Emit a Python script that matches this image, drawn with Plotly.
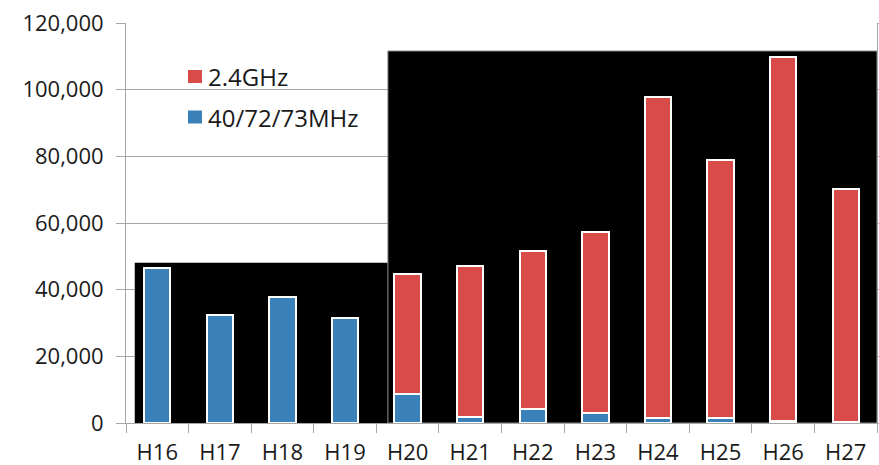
import plotly.graph_objects as go

# Fiscal years (Heisei era)
years = ["H16", "H17", "H18", "H19", "H20", "H21", "H22", "H23", "H24", "H25", "H26", "H27"]

# Counts per frequency band
band_40_72_73mhz = [46600, 32500, 37700, 31600, 8600, 1700, 4300, 3100, 1500, 1500, 600, 300]
band_24ghz = [0, 0, 0, 0, 36200, 45300, 47400, 54200, 96200, 77300, 109100, 70000]

legend_labels = ["2.4GHz", "40/72/73MHz"]

RED = "#D84B49"
BLUE = "#3A80B9"
GRID = "#A6A6A6"
TEXT = "#1A1A1A"
FONT = "Open Sans"

W, H = 879, 465
ML, MR, MT, MB = 126, 2, 23, 42
PW, PH = W - ML - MR, H - MT - MB


def px_x(px):
    """Pixel column -> paper x."""
    return (px - ML) / PW


def px_y(py):
    """Pixel row -> paper y."""
    return 1 - (py - MT) / PH


fig = go.Figure()

fig.add_trace(go.Bar(
    x=years, y=band_40_72_73mhz, name=legend_labels[1],
    marker=dict(color=BLUE, line=dict(color="white", width=2)),
))
fig.add_trace(go.Bar(
    x=years, y=band_24ghz, name=legend_labels[0],
    marker=dict(color=RED, line=dict(color="white", width=2)),
))

# Invisible trace to bind the right-hand axis
fig.add_trace(go.Scatter(x=years, y=[None] * len(years), yaxis="y2",
                         showlegend=False, hoverinfo="skip"))

# Black backdrop panels behind the two periods
fig.add_shape(type="rect", xref="x", yref="y", x0=-0.36, x1=3.685, y0=0, y1=48100,
              fillcolor="black", line=dict(width=0), layer="between")
fig.add_shape(type="rect", xref="x", yref="y", x0=3.685, x1=11.5, y0=0, y1=111600,
              fillcolor="black", line=dict(color="#8C8C8C", width=1), layer="between")

# Legend: white box over the gridlines, colour swatches and labels
fig.add_shape(type="rect", xref="paper", yref="paper",
              x0=px_x(175), x1=px_x(370), y0=px_y(140), y1=px_y(45),
              fillcolor="white", line=dict(width=0), layer="between")
for label, color, cy in [(legend_labels[0], RED, 76.5), (legend_labels[1], BLUE, 117)]:
    fig.add_shape(type="rect", xref="paper", yref="paper",
                  x0=px_x(188), x1=px_x(202), y0=px_y(cy + 6.5), y1=px_y(cy - 6.5),
                  fillcolor=color, line=dict(width=0), layer="above")
    fig.add_annotation(x=px_x(206), y=px_y(cy), xref="paper", yref="paper",
                       text=label, showarrow=False, xanchor="left", yanchor="middle",
                       font=dict(family=FONT, size=24, color=TEXT))

fig.update_layout(
    width=W, height=H,
    margin=dict(l=ML, r=MR, t=MT, b=MB, autoexpand=False),
    paper_bgcolor="white", plot_bgcolor="white",
    barmode="stack", bargap=0.58,
    font=dict(family=FONT, size=22, color=TEXT),
    showlegend=False,
    xaxis=dict(
        type="category", range=[-0.5, 11.5], automargin=False,
        showline=True, linecolor=GRID, linewidth=1,
        ticks="outside", tickson="boundaries", ticklen=9, tickcolor=GRID,
        ticklabelstandoff=10,
        showgrid=False, tickfont=dict(family=FONT, size=22, color=TEXT),
    ),
    yaxis=dict(
        range=[0, 120000], dtick=20000, tickformat=",", automargin=False,
        showline=True, linecolor=GRID, linewidth=1,
        ticks="outside", ticklen=9, tickcolor=GRID, ticklabelstandoff=8,
        showgrid=True, gridcolor=GRID, gridwidth=1, zeroline=False,
        tickfont=dict(family=FONT, size=22, color=TEXT),
    ),
    yaxis2=dict(
        overlaying="y", side="right", range=[0, 120000], dtick=20000,
        automargin=False,
        showline=True, linecolor=GRID, linewidth=1,
        ticks="outside", ticklen=3, tickcolor=GRID,
        showticklabels=False, showgrid=False, zeroline=False,
    ),
)

fig.write_html("out.html")
